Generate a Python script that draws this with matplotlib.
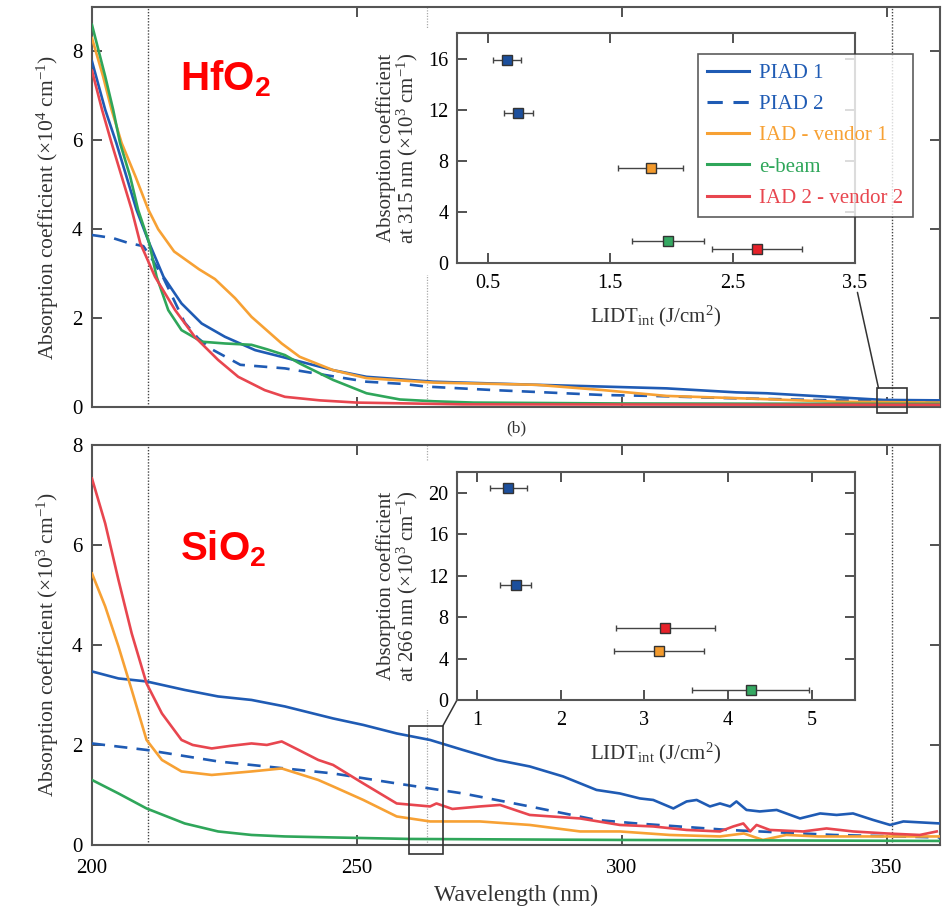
import matplotlib
matplotlib.use("Agg")
import matplotlib.pyplot as plt
from matplotlib.patches import Rectangle, ConnectionPatch
from matplotlib.lines import Line2D

plt.rcParams['font.family'] = ['Liberation Serif', 'DejaVu Serif']
plt.rcParams['mathtext.fontset'] = 'custom'
plt.rcParams['mathtext.rm'] = 'Liberation Serif'
plt.rcParams['mathtext.it'] = 'Liberation Serif:italic'
plt.rcParams['mathtext.bf'] = 'Liberation Sans:bold'

# ---------------- data ----------------
series_names = ["PIAD 1", "PIAD 2", "IAD - vendor 1", "e-beam", "IAD 2 - vendor 2"]

# HfO2 absorption (x10^4 cm^-1)
hf_piad1_wl = [200, 202.5, 204.6, 206.5, 208.4, 210.8, 213.5, 216.9, 220.7, 225.1, 230.8, 235.8, 245.5,
               251.8, 264.4, 283.9, 296.5, 308.4, 321.6, 327.3, 340.5, 349.3, 360]
hf_piad1 = [7.78, 6.69, 5.94, 5.19, 4.44, 3.69, 2.93, 2.33, 1.88, 1.58, 1.28, 1.13, 0.83,
            0.68, 0.57, 0.50, 0.46, 0.42, 0.33, 0.31, 0.22, 0.16, 0.15]
hf_piad2_wl = [200, 201.2, 204, 206.9, 209.7, 211.5, 213.5, 215.5, 217.5, 220, 222.6, 228, 236.4, 244,
               251.8, 258.7, 263.1, 276, 285.5, 296.5, 305.9, 320, 340, 360]
hf_piad2 = [3.87, 3.85, 3.8, 3.69, 3.62, 3.3, 2.9, 2.4, 1.9, 1.55, 1.3, 0.95, 0.87, 0.72,
            0.57, 0.52, 0.46, 0.38, 0.33, 0.27, 0.25, 0.2, 0.15, 0.12]
hf_iad1_wl = [200, 202.1, 203.7, 205.6, 208.2, 210.6, 212.5, 215.5, 220.2, 223.2, 227, 230.1, 235.8,
              239.2, 245.5, 251.8, 264.4, 283.9, 296.5, 308.4, 321.6, 340.5, 360]
hf_iad1 = [8.3, 7.44, 6.69, 5.94, 5.19, 4.45, 4.0, 3.5, 3.1, 2.88, 2.45, 2.03, 1.43,
           1.13, 0.83, 0.65, 0.55, 0.50, 0.38, 0.25, 0.2, 0.12, 0.1]
hf_ebeam_wl = [200, 202.5, 204, 205.3, 207.2, 208.7, 210.8, 212.2, 214.4, 216.9, 220.7, 225.1, 230.1,
               233, 236.4, 239.2, 245.5, 251.8, 258.1, 264.4, 272, 300, 360]
hf_ebeam = [8.6, 7.44, 6.69, 5.94, 5.19, 4.44, 3.69, 2.93, 2.18, 1.73, 1.47, 1.43, 1.40,
            1.3, 1.17, 0.98, 0.61, 0.31, 0.17, 0.13, 0.1, 0.08, 0.07]
hf_iad2_wl = [200, 201.9, 203.7, 205.6, 207.5, 209.1, 211.9, 215.7, 219.4, 223.8, 227.6, 232.6, 236.4,
              243, 250, 270, 360]
hf_iad2 = [7.57, 6.69, 5.94, 5.19, 4.44, 3.69, 2.93, 2.18, 1.58, 1.06, 0.68, 0.38, 0.23,
           0.15, 0.1, 0.06, 0.05]

# SiO2 absorption (x10^3 cm^-1)
si_piad1_wl = [200, 205, 210.3, 217.5, 223.8, 230.1, 236.4, 245.5, 251.2, 257.5, 263.8, 270, 276.4,
               282.6, 288.9, 295.2, 299.6, 303.4, 305.9, 309.7, 312.2, 314.1, 316.6, 318.5, 320.4,
               321.6, 323.5, 326, 329.2, 333.6, 337.4, 340.5, 343.6, 347.4, 350.6, 353.1, 360]
si_piad1 = [3.47, 3.33, 3.27, 3.1, 2.97, 2.9, 2.77, 2.53, 2.4, 2.23, 2.1, 1.9, 1.7,
            1.57, 1.37, 1.1, 1.03, 0.93, 0.90, 0.73, 0.87, 0.90, 0.77, 0.83, 0.77,
            0.87, 0.70, 0.67, 0.70, 0.53, 0.63, 0.6, 0.63, 0.5, 0.4, 0.47, 0.43]
si_piad2_wl = [200, 210.3, 223.8, 236.4, 245.5, 257.5, 270, 282.6, 295.2, 302.8, 320, 340, 360]
si_piad2 = [2.03, 1.9, 1.67, 1.53, 1.43, 1.23, 1.03, 0.77, 0.5, 0.43, 0.3, 0.2, 0.15]
si_iad1_wl = [200, 202.5, 205, 207.5, 210.3, 213.2, 216.9, 222.6, 230.1, 235.8, 242.7, 245.5, 251.2,
              257.5, 263.8, 273.2, 282.6, 292.1, 299.6, 309, 318.5, 323, 326.6, 331, 337, 350, 360]
si_iad1 = [5.43, 4.77, 3.97, 3.1, 2.1, 1.7, 1.47, 1.4, 1.47, 1.53, 1.3, 1.17, 0.9,
           0.57, 0.47, 0.47, 0.4, 0.27, 0.27, 0.2, 0.17, 0.23, 0.1, 0.2, 0.17, 0.17, 0.17]
si_ebeam_wl = [200, 205, 210.3, 217.5, 223.8, 230.1, 236.4, 245.5, 260, 300, 360]
si_ebeam = [1.3, 1.03, 0.73, 0.43, 0.27, 0.2, 0.17, 0.15, 0.12, 0.1, 0.08]
si_iad2_wl = [200, 202.5, 205, 207.5, 210.3, 213.2, 216.9, 219, 222.6, 226, 230.1, 233, 235.8, 239,
              242.7, 245.5, 251.2, 257.5, 263.8, 265, 268, 273.2, 277, 282.6, 292.1, 299.6, 305.9,
              312.2, 318.5, 321, 322.9, 324.2, 325.4, 327.9, 334.2, 338.6, 343.6, 349.9, 356.2, 359.4]
si_iad2 = [7.33, 6.43, 5.3, 4.23, 3.23, 2.63, 2.1, 2.0, 1.93, 1.98, 2.03, 2.0, 2.07, 1.9,
           1.7, 1.6, 1.23, 0.83, 0.77, 0.83, 0.72, 0.77, 0.8, 0.6, 0.53, 0.4, 0.37,
           0.3, 0.27, 0.37, 0.43, 0.27, 0.4, 0.3, 0.27, 0.33, 0.27, 0.23, 0.2, 0.27]

# Inset data: LIDT_int (J/cm^2) vs absorption coefficient (x10^3 cm^-1)
hf_lidt = [0.66, 0.75, 1.83, 1.97, 2.70]
hf_lidt_err = [0.115, 0.12, 0.265, 0.295, 0.37]
hf_abs315 = [15.9, 11.7, 7.4, 1.74, 1.09]
si_lidt = [1.37, 1.46, 3.17, 4.27, 3.25]
si_lidt_err = [0.22, 0.185, 0.54, 0.70, 0.59]
si_abs266 = [20.47, 11.13, 4.73, 0.96, 6.97]

harmonics = [210.6, 263.25, 351.0]

# ---------------- styles ----------------
line_colors = ['#1f5bb4', '#1f5bb4', '#f7a134', '#2fa65a', '#e8464f']
line_styles = ['-', (0, (5, 3.5)), '-', '-', '-']
marker_colors = ['#1c4f9c', '#1c4f9c', '#f39a2c', '#35a862', '#e62129']

fig = plt.figure(figsize=(9.48, 9.11), dpi=100)
ax1 = fig.add_axes([0.0970, 0.5532, 0.8945, 0.4391])
ax2 = fig.add_axes([0.0970, 0.0725, 0.8945, 0.4391])

hf_sets = [(hf_piad1_wl, hf_piad1), (hf_piad2_wl, hf_piad2), (hf_iad1_wl, hf_iad1),
           (hf_ebeam_wl, hf_ebeam), (hf_iad2_wl, hf_iad2)]
si_sets = [(si_piad1_wl, si_piad1), (si_piad2_wl, si_piad2), (si_iad1_wl, si_iad1),
           (si_ebeam_wl, si_ebeam), (si_iad2_wl, si_iad2)]

for ax, sets in [(ax1, hf_sets), (ax2, si_sets)]:
    for (wl, val), c, ls in zip(sets, line_colors, line_styles):
        ax.plot(wl, val, color=c, ls=ls, lw=1.9, solid_joinstyle='round', zorder=3)
    for i, h in enumerate(harmonics):
        ax.axvline(h, color='#aaaaaa' if i == 1 else '#444444', ls=(0, (1, 1.2)),
                   lw=0.9 if i == 1 else 1.0, zorder=1)
    ax.set_xlim(200, 360)
    ax.set_xticks([200, 250, 300, 350])
    ax.tick_params(direction='in', top=True, right=True, length=7, width=1.2,
                   color='#333333', labelsize=15, pad=7)
    ax.tick_params(axis='x', pad=10)
    for s in ax.spines.values():
        s.set_color('#555555')
        s.set_linewidth(1.5)

ax1.set_ylim(0, 9)
ax1.set_yticks([0, 2, 4, 6, 8])
ax1.tick_params(labelbottom=False)
ax1.set_ylabel('Absorption coefficient (×10$^4$ cm$^{-1}$)', fontsize=15.5, color='#333333', labelpad=8)

ax2.set_ylim(0, 8)
ax2.set_yticks([0, 2, 4, 6, 8])
ax2.set_ylabel('Absorption coefficient (×10$^3$ cm$^{-1}$)', fontsize=15.5, color='#333333', labelpad=8)
ax2.set_xlabel('Wavelength (nm)', fontsize=17, color='#333333', labelpad=5)

# white backgrounds behind insets
for (x0, y0, x1, y1) in [(365, 28, 862, 275), (365, 462, 862, 710)]:
    fig.add_artist(Rectangle((x0 / 948, 1 - y1 / 911), (x1 - x0) / 948, (y1 - y0) / 911,
                             transform=fig.transFigure, facecolor='white', edgecolor='none', zorder=1))

# insets
ins1 = fig.add_axes([0.4821, 0.7113, 0.4198, 0.2525])
ins2 = fig.add_axes([0.4821, 0.2316, 0.4198, 0.2503])
for ins in (ins1, ins2):
    ins.set_zorder(3)

for ins, xs, xe, ys in [(ins1, hf_lidt, hf_lidt_err, hf_abs315), (ins2, si_lidt, si_lidt_err, si_abs266)]:
    for x, e, y, mc in zip(xs, xe, ys, marker_colors):
        ins.errorbar(x, y, xerr=e, fmt='s', ms=7.5, mfc=mc, mec='#333333', mew=1.0,
                     ecolor='#444444', elinewidth=1.0, capsize=2.5, capthick=1.0, zorder=3)
    ins.tick_params(direction='in', top=True, right=True, length=7, width=1.2,
                    color='#333333', labelsize=14.5, pad=6)
    ins.tick_params(axis='x', pad=8)
    for s in ins.spines.values():
        s.set_color('#555555')
        s.set_linewidth(1.5)
    ins.set_xlabel('LIDT$_{\\mathrm{int}}$ (J/cm$^2$)', fontsize=15, color='#333333', labelpad=8)

ins1.set_xlim(0.25, 3.5)
ins1.set_xticks([0.5, 1.5, 2.5, 3.5])
ins1.set_xticklabels(['0.5', '1.5', '2.5', '3.5'])
ins1.set_ylim(0, 18)
ins1.set_yticks([0, 4, 8, 12, 16])
ins1.set_ylabel('Absorption coefficient\nat 315 nm (×10$^3$ cm$^{-1}$)', fontsize=15,
                color='#333333', labelpad=6, linespacing=0.95)

ins2.set_xlim(0.757, 5.52)
ins2.set_xticks([1, 2, 3, 4, 5])
ins2.set_ylim(0, 22)
ins2.set_yticks([0, 4, 8, 12, 16, 20])
ins2.set_ylabel('Absorption coefficient\nat 266 nm (×10$^3$ cm$^{-1}$)', fontsize=15,
                color='#333333', labelpad=6, linespacing=0.95)

# legend
handles = [Line2D([], [], color=c, ls=ls, lw=2.2) for c, ls in zip(line_colors, line_styles)]
leg = ins1.legend(handles, series_names, loc='upper left', bbox_to_anchor=(698 / 948, 1 - 54 / 911),
                  bbox_transform=fig.transFigure, fontsize=15, frameon=True, fancybox=False,
                  edgecolor='#333333', handlelength=2.0, handletextpad=0.5, labelspacing=0.56,
                  borderpad=0.45, borderaxespad=0)
leg.get_frame().set_linewidth(1.2)
leg.set_zorder(10)
for t, c in zip(leg.get_texts(), line_colors):
    t.set_color(c)

# zoom boxes and connectors
ax1.add_patch(Rectangle((348.1, -0.14), 5.7, 0.57, fill=False, ec='#333333', lw=1.2,
                        clip_on=False, zorder=5))
fig.add_artist(ConnectionPatch(xyA=(3.52, -2.3), coordsA=ins1.transData,
                               xyB=(348.4, 0.43), coordsB=ax1.transData,
                               color='#333333', lw=1.1, zorder=2))
ax2.add_patch(Rectangle((259.8, -0.18), 6.4, 2.56, fill=False, ec='#333333', lw=1.2,
                        clip_on=False, zorder=5))
fig.add_artist(ConnectionPatch(xyA=(0, 0), coordsA=ins2.transAxes,
                               xyB=(266.2, 2.38), coordsB=ax2.transData,
                               color='#333333', lw=1.1, zorder=2))

# material labels
fig.text(180 / 948, 1 - 90 / 911, r'$\mathbf{HfO_2}$', color='#ff0000', fontsize=29,
         ha='left', va='baseline')
fig.text(180 / 948, 1 - 560 / 911, r'$\mathbf{SiO_2}$', color='#ff0000', fontsize=29,
         ha='left', va='baseline')
fig.text(516 / 948, 1 - 428 / 911, '(b)', ha='center', va='center', fontsize=12.5, color='#333333')

fig.savefig('out.png', dpi=100)
